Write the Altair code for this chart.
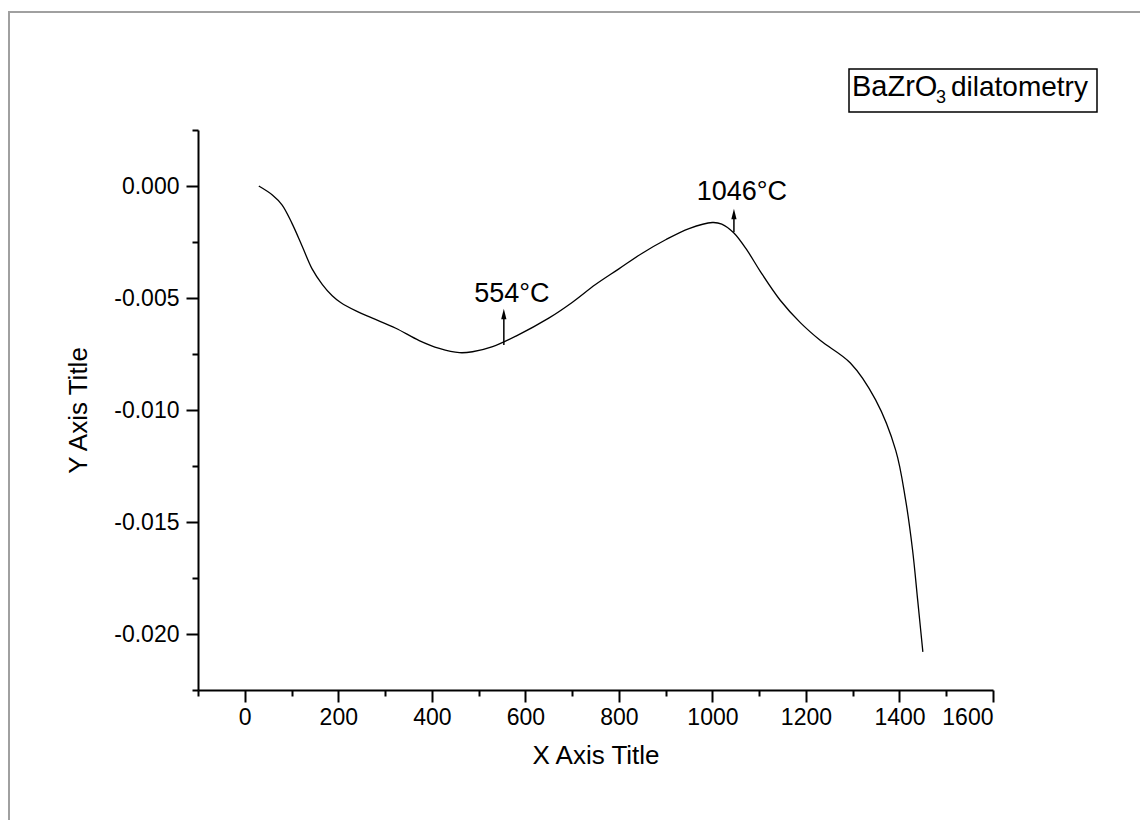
import altair as alt
import pandas as pd

# ---- data ----
temp_c = [30, 59, 80, 101, 123, 144, 166, 187, 205, 240, 273, 323, 373, 416, 459, 487,
          530, 580, 650, 700, 750, 800, 850, 900, 950, 1000, 1020, 1046, 1075, 1102,
          1145, 1188, 1231, 1295, 1349, 1392, 1413, 1428, 1439, 1450]
dl_l0 = [0.0, -0.0004, -0.00085, -0.00167, -0.0027, -0.00370, -0.0044, -0.0049,
         -0.0052, -0.0056, -0.0059, -0.00635, -0.0069, -0.00725, -0.00744, -0.0074, -0.00717,
         -0.0067, -0.0059, -0.0052, -0.0044, -0.0037, -0.0030, -0.0024, -0.0019,
         -0.00163, -0.0017, -0.0021, -0.0029, -0.0038, -0.0051, -0.0061, -0.0069,
         -0.0079, -0.00955, -0.0118, -0.0140, -0.01625, -0.0185, -0.0208]

ann_x = [554, 1046]
ann_label = ["554°C", "1046°C"]
ann_text_y = [-0.0052, -0.000625]
arrow_bottom = [-0.0071, -0.00205]
arrow_top = [-0.0059, -0.0014]
head_y = [-0.00571, -0.00125]

x_major = [0, 200, 400, 600, 800, 1000, 1200, 1400, 1600]
x_minor = [-100, 100, 300, 500, 700, 900, 1100, 1300, 1500]
y_major = [0.0, -0.005, -0.010, -0.015, -0.020]
y_minor = [0.0025, -0.0025, -0.0075, -0.0125, -0.0175, -0.0225]

legend_parts = ["BaZrO", "3", "dilatometry"]

FONT = "Liberation Sans"
W, H = 795, 560

curve = pd.DataFrame({"T": temp_c, "d": dl_l0})
ann = pd.DataFrame({"T": ann_x, "label": ann_label, "ty": ann_text_y,
                    "y0": arrow_bottom, "y1": arrow_top, "hy": head_y})

xs = alt.Scale(domain=[-100, 1600], nice=False, zero=False)
ys = alt.Scale(domain=[-0.0225, 0.0025], nice=False, zero=False)

x_axis_major = alt.Axis(values=x_major, format="d", tickSize=12, tickWidth=2, domainWidth=2,
                        domainColor="black", tickColor="black", labelColor="black",
                        labelFont=FONT, labelFontSize=23, labelPadding=4, grid=False,
                        title="X Axis Title", titleFont=FONT, titleFontSize=26,
                        titleFontWeight="normal", titleColor="black", titlePadding=13,
                        orient="bottom")
y_axis_major = alt.Axis(values=y_major, tickSize=12, tickWidth=2, domainWidth=2,
                        domainColor="black", tickColor="black", labelColor="black",
                        labelFont=FONT, labelFontSize=23, labelPadding=7, grid=False,
                        labelExpr="replace(format(datum.value, '.3f'), '\u2212', '-')",
                        title="Y Axis Title", titleFont=FONT, titleFontSize=26,
                        titleFontWeight="normal", titleColor="black", titlePadding=22,
                        orient="left")
x_axis_minor = alt.Axis(values=x_minor, tickSize=6, tickWidth=2, domain=False,
                        tickColor="black", labels=False, grid=False, title=None,
                        orient="bottom")
y_axis_minor = alt.Axis(values=y_minor, tickSize=6, tickWidth=2, domain=False,
                        tickColor="black", labels=False, grid=False, title=None,
                        orient="left")

line = alt.Chart(curve).mark_line(color="black", strokeWidth=1.3,
                                  interpolate="catmull-rom").encode(
    x=alt.X("T:Q", scale=xs, axis=x_axis_major),
    y=alt.Y("d:Q", scale=ys, axis=y_axis_major),
)

minor = alt.Chart(curve).mark_point(opacity=0).encode(
    x=alt.X("T:Q", scale=xs, axis=x_axis_minor),
    y=alt.Y("d:Q", scale=ys, axis=y_axis_minor),
)

arrows = alt.Chart(ann).mark_rule(color="black", strokeWidth=1.5).encode(
    x=alt.X("T:Q", scale=xs, axis=None),
    y=alt.Y("y0:Q", scale=ys, axis=None),
    y2="y1:Q",
)

heads = alt.Chart(ann).mark_point(
    shape="M-0.5,1 L0,-1 L0.5,1 Z", filled=True, color="black", opacity=1,
    size=110, strokeWidth=0).encode(
    x=alt.X("T:Q", scale=xs, axis=None),
    y=alt.Y("hy:Q", scale=ys, axis=None),
)

labels = alt.Chart(ann).mark_text(font=FONT, fontSize=27, color="black",
                                  align="center", baseline="alphabetic", dx=8).encode(
    x=alt.X("T:Q", scale=xs, axis=None),
    y=alt.Y("ty:Q", scale=ys, axis=None),
    text="label:N",
)

# page frame
frame = alt.Chart(pd.DataFrame({"k": [0]})).mark_rect(
    fill=None, stroke="#a0a0a0", strokeWidth=2, clip=False).encode(
    x=alt.value(-189), x2=alt.value(1400), y=alt.value(-118), y2=alt.value(1000))

# legend box
box = alt.Chart(pd.DataFrame({"k": [0]})).mark_rect(
    fill="white", stroke="black", strokeWidth=1.5).encode(
    x=alt.value(651), x2=alt.value(899), y=alt.value(-61), y2=alt.value(-18))

leg1 = alt.Chart(pd.DataFrame({"t": [legend_parts[0]]})).mark_text(
    font=FONT, fontSize=29, color="black", align="left", baseline="alphabetic").encode(
    x=alt.value(654), y=alt.value(-34), text="t:N")
leg2 = alt.Chart(pd.DataFrame({"t": [legend_parts[1]]})).mark_text(
    font=FONT, fontSize=18, color="black", align="left", baseline="alphabetic").encode(
    x=alt.value(738), y=alt.value(-27), text="t:N")
leg3 = alt.Chart(pd.DataFrame({"t": [legend_parts[2]]})).mark_text(
    font=FONT, fontSize=28, color="black", align="left", baseline="alphabetic").encode(
    x=alt.value(753), y=alt.value(-34), text="t:N")

chart = alt.layer(frame, line, minor, arrows, heads, labels, box, leg1, leg2, leg3).resolve_axis(
    x="independent", y="independent"
).properties(
    width=W, height=H,
    autosize=alt.AutoSizeParams(type="none"),
    padding={"left": 190, "top": 122, "right": 147, "bottom": 130},
    background="white",
).configure(font=FONT, view=alt.ViewConfig(stroke=None))

chart.save("out.html", embed_options={"renderer": "svg", "actions": False})
